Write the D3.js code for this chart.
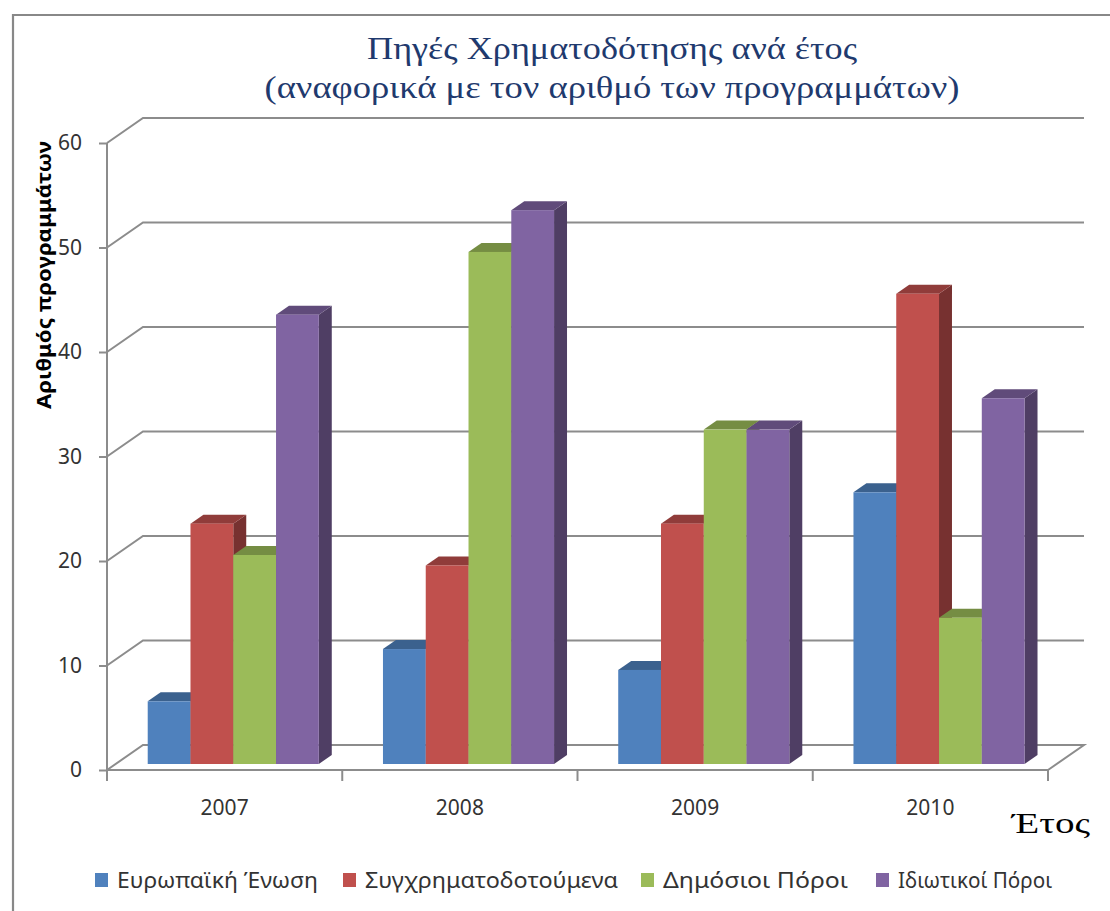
<!DOCTYPE html>
<html><head><meta charset="utf-8">
<script src="https://cdn.jsdelivr.net/npm/d3@7"></script>
<style>body{margin:0;background:#fff}svg{display:block}</style>
</head><body>
<svg id="c" width="1110" height="911"></svg>
<script>
const years = ["2007","2008","2009","2010"];
const seriesNames = ["Ευρωπαϊκή Ένωση","Συγχρηματοδοτούμενα","Δημόσιοι Πόροι","Ιδιωτικοί Πόροι"];
const seriesColors = ["#4F81BD","#C0504D","#9BBB59","#8064A2"];
const euValues = [6, 11, 9, 26];
const coValues = [23, 19, 23, 45];
const publicValues = [20, 49, 32, 14];
const privateValues = [43, 53, 32, 35];
const yTicks = [0,10,20,30,40,50,60];
const titleLines = ["Πηγές Χρηματοδότησης ανά έτος","(αναφορικά με τον αριθμό των προγραμμάτων)"];
const yTitle = "Αριθμός προγραμμάτων";
const xTitle = "Έτος";

const seriesValues = [euValues, coValues, publicValues, privateValues];

const svg = d3.select("#c");
// border
svg.append("path").attr("d","M13,911 L13,15 L1110,15").attr("fill","none").attr("stroke","#888").attr("stroke-width",2.2);

const X0 = 107, X1 = 1048;
const DX = 36, DY = -25;
const x = d3.scaleBand().domain(years).range([X0, X1]).padding(0);
const xs = d3.scaleBand().domain(seriesNames).range([0, x.bandwidth()]).paddingInner(0).paddingOuter(0.75);
const y = d3.scaleLinear().domain([0,60]).range([770,143]);

const g = svg.append("g");
const gridColor = "#8c8c8c";
yTicks.forEach(t => {
  const yy = y(t);
  if (t > 0) {
    g.append("path").attr("d", `M${X0},${yy} L${X0+DX},${yy+DY} L${X1+DX},${yy+DY}`)
      .attr("fill","none").attr("stroke",gridColor).attr("stroke-width",2);
  }
});
g.append("path").attr("d", `M${X0},${y(0)} L${X0+DX},${y(0)+DY} L${X1+DX},${y(0)+DY} L${X1},${y(0)}`)
  .attr("fill","none").attr("stroke",gridColor).attr("stroke-width",2);

// y axis
const yAxis = d3.axisLeft(y).tickValues(yTicks).tickSize(8).tickPadding(17);
const ya = svg.append("g").attr("transform",`translate(${X0},0)`).call(yAxis);
ya.select(".domain").attr("stroke",gridColor).attr("stroke-width",2).attr("d",`M0,${y(60)} L0,${y(0)}`);
ya.selectAll(".tick line").attr("stroke",gridColor).attr("stroke-width",2);
ya.selectAll(".tick text").attr("font-family","'Noto Sans', sans-serif").attr("font-size",21).attr("fill","#333");

// x axis
const xa = svg.append("g").attr("transform",`translate(0,${y(0)})`);
xa.append("line").attr("x1",X0).attr("x2",X1).attr("stroke",gridColor).attr("stroke-width",2);
[X0, ...years.map(yr => x(yr)+x.bandwidth())].forEach(px => {
  xa.append("line").attr("x1",px).attr("x2",px).attr("y1",0).attr("y2",11).attr("stroke",gridColor).attr("stroke-width",2);
});
years.forEach(yr => {
  xa.append("text").attr("x", x(yr)+x.bandwidth()/2).attr("y", 45).attr("text-anchor","middle")
    .attr("font-family","'Noto Sans', sans-serif").attr("font-size",21).attr("fill","#333").text(yr);
});

// bars
const f1 = 0.24, f2 = 0.60;
const bars = svg.append("g");
years.forEach((yr, i) => {
  seriesNames.forEach((s, j) => {
    const v = seriesValues[j][i];
    const c = d3.color(seriesColors[j]);
    const top = c.darker(0.8), side = c.darker(1.35);
    const bx = x(yr) + xs(s) + DX*f1, bw = xs.bandwidth();
    const by0 = y(0) + DY*f1, byt = y(v) + DY*f1;
    const ddx = DX*(f2-f1), ddy = DY*(f2-f1);
    const bg = bars.append("g");
    bg.append("path").attr("d",`M${bx+bw},${byt} L${bx+bw+ddx},${byt+ddy} L${bx+bw+ddx},${by0+ddy} L${bx+bw},${by0} Z`).attr("fill",side);
    bg.append("path").attr("d",`M${bx},${byt} L${bx+ddx},${byt+ddy} L${bx+bw+ddx},${byt+ddy} L${bx+bw},${byt} Z`).attr("fill",top);
    bg.append("rect").attr("x",bx).attr("y",byt).attr("width",bw).attr("height",by0-byt).attr("fill",c.formatHex());
  });
});

// titles
const titleWidths = [490, 695];
titleLines.forEach((t, i) => {
  svg.append("text").attr("x", 612).attr("y", 59 + i*39).attr("text-anchor","middle")
    .attr("font-family","'Liberation Serif', serif").attr("font-size",32).attr("fill","#1F3A6E")
    .attr("textLength", titleWidths[i]).attr("lengthAdjust","spacingAndGlyphs").text(t);
});
svg.append("text").attr("transform","translate(51,275) rotate(-90)").attr("text-anchor","middle")
  .attr("font-family","'Noto Sans', sans-serif").attr("font-weight","bold").attr("font-size",20).attr("fill","#000")
  .attr("textLength",268).attr("lengthAdjust","spacingAndGlyphs").text(yTitle);
svg.append("text").attr("x",1051).attr("y",833).attr("text-anchor","middle")
  .attr("font-family","'Liberation Serif', serif").attr("font-size",29).attr("fill","#000")
  .attr("textLength",78).attr("lengthAdjust","spacingAndGlyphs").text(xTitle);

// legend
const legX = [95, 343, 641, 876];
const legW = [201, 253, 185, 154];
const leg = svg.append("g");
seriesNames.forEach((s, j) => {
  leg.append("rect").attr("x",legX[j]).attr("y",873).attr("width",13).attr("height",14).attr("fill",seriesColors[j]);
  leg.append("text").attr("x",legX[j]+22).attr("y",888).attr("font-family","'Noto Sans', sans-serif")
    .attr("font-size",21).attr("fill","#333").attr("textLength",legW[j]).attr("lengthAdjust","spacingAndGlyphs").text(s);
});
</script>
</body></html>
